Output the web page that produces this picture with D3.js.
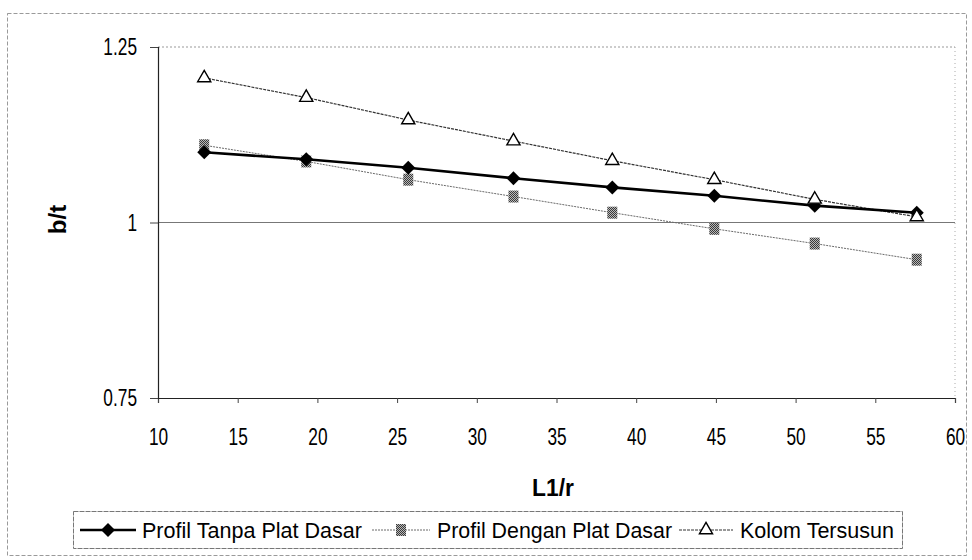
<!DOCTYPE html>
<html>
<head>
<meta charset="utf-8">
<script src="https://cdn.jsdelivr.net/npm/d3@7"></script>
<style>
  html, body { margin: 0; padding: 0; background: #fff; }
  svg { display: block; font-family: "Liberation Sans", Arial, sans-serif; }
</style>
</head>
<body>
<svg id="chart" width="972" height="560"></svg>
<script>
// Slenderness ratio L1/r at each test point
const slenderness = [12.9, 19.3, 25.7, 32.3, 38.5, 44.9, 51.2, 57.6];

// b/t for each configuration
const profilTanpaPlatDasar  = [1.100, 1.090, 1.078, 1.063, 1.050, 1.038, 1.024, 1.014];
const profilDenganPlatDasar = [1.110, 1.087, 1.061, 1.037, 1.014, 0.991, 0.970, 0.947];
const kolomTersusun         = [1.206, 1.178, 1.146, 1.116, 1.088, 1.061, 1.033, 1.008];

const seriesNames = ["Profil Tanpa Plat Dasar", "Profil Dengan Plat Dasar", "Kolom Tersusun"];
const xTicks = [10, 15, 20, 25, 30, 35, 40, 45, 50, 55, 60];
const yTicks = [0.75, 1, 1.25];

const svg = d3.select("#chart");

// squeeze a text element horizontally to mimic a narrow face
function narrow(sel, k) {
  sel.each(function () {
    const w = this.getComputedTextLength();
    d3.select(this).attr("textLength", w * k).attr("lengthAdjust", "spacingAndGlyphs");
  });
}

// outer chart frame
svg.append("rect")
  .attr("x", 7.5).attr("y", 13.5).attr("width", 959).attr("height", 542)
  .attr("fill", "none").attr("stroke", "#9a9a9a").attr("stroke-width", 1)
  .attr("stroke-dasharray", "4,2");

const x = d3.scaleLinear().domain([10, 60]).range([158, 955]);
const y = d3.scaleLinear().domain([0.75, 1.25]).range([398, 47]);

// checkered fill for the square markers
const defs = svg.append("defs");
const pat = defs.append("pattern").attr("id", "checker")
  .attr("width", 2).attr("height", 2).attr("patternUnits", "userSpaceOnUse");
pat.append("rect").attr("width", 2).attr("height", 2).attr("fill", "#b8b8b8");
pat.append("rect").attr("width", 1).attr("height", 1).attr("fill", "#3a3a3a");
pat.append("rect").attr("x", 1).attr("y", 1).attr("width", 1).attr("height", 1).attr("fill", "#3a3a3a");

// plot area frame and gridlines
svg.append("line")
  .attr("x1", x(60)).attr("x2", x(60)).attr("y1", y(1.25)).attr("y2", y(0.75))
  .attr("stroke", "#aaa").attr("stroke-dasharray", "1,3");
svg.append("g").selectAll("line").data(yTicks.filter(d => d > 0.75)).join("line")
  .attr("x1", x(10)).attr("x2", x(60))
  .attr("y1", d => y(d)).attr("y2", d => y(d))
  .attr("stroke", d => d === 1 ? "#777" : "#999")
  .attr("stroke-width", 1)
  .attr("stroke-dasharray", d => d === 1 ? null : "2,2");

// axes
const xAxis = d3.axisBottom(x).tickValues(xTicks).tickSize(5).tickPadding(25).tickFormat(d3.format("d"));
const yAxis = d3.axisLeft(y).tickValues(yTicks).tickSize(8).tickPadding(13).tickFormat(d => d3.format("")(d));

const gx = svg.append("g").attr("transform", `translate(0,${y(0.75)})`).call(xAxis);
const gy = svg.append("g").attr("transform", `translate(${x(10)},0)`).call(yAxis);
[gx, gy].forEach(g => {
  g.attr("font-size", 24).attr("font-family", "\"Liberation Sans\", Arial, sans-serif");
  g.select(".domain").attr("stroke", "#222").attr("stroke-width", 1.2);
  g.selectAll(".tick line").attr("stroke", "#444");
  g.selectAll(".tick text").attr("fill", "#000").call(narrow, 0.72);
});

// axis titles
svg.append("text").attr("x", 553).attr("y", 496).attr("text-anchor", "middle")
  .attr("font-size", 24).attr("font-weight", "bold").text("L1/r").call(narrow, 0.95);
svg.append("text").attr("transform", `translate(66,${y(1) - 3}) rotate(-90)`)
  .attr("text-anchor", "middle").attr("font-size", 24).attr("font-weight", "bold").text("b/t");

const line = d3.line().x((d, i) => x(slenderness[i])).y(d => y(d));

// series lines
svg.append("path").datum(profilDenganPlatDasar).attr("d", line)
  .attr("fill", "none").attr("stroke", "#6a6a6a").attr("stroke-width", 1).attr("stroke-dasharray", "2,1");
svg.append("path").datum(kolomTersusun).attr("d", line)
  .attr("fill", "none").attr("stroke", "#333").attr("stroke-width", 1.2).attr("stroke-dasharray", "3,1");
svg.append("path").datum(profilTanpaPlatDasar).attr("d", line)
  .attr("fill", "none").attr("stroke", "#000").attr("stroke-width", 2.6);

// marker shapes
const triangle = d3.symbol().type(d3.symbolTriangle).size(75);

function drawSquare(g, cx, cy) {
  g.append("rect").attr("x", cx - 5).attr("y", cy - 6).attr("width", 10).attr("height", 12)
    .attr("fill", "url(#checker)");
}
function drawDiamond(g, cx, cy) {
  g.append("path").attr("d", "M0,-7L7,0L0,7L-7,0Z")
    .attr("transform", `translate(${cx},${cy})`).attr("fill", "#000");
}
function drawTriangle(g, cx, cy) {
  g.append("path").attr("d", triangle()).attr("transform", `translate(${cx},${cy})`)
    .attr("fill", "#fff").attr("stroke", "#000").attr("stroke-width", 1.4);
}

const gm = svg.append("g");
profilDenganPlatDasar.forEach((v, i) => drawSquare(gm, x(slenderness[i]), y(v)));
profilTanpaPlatDasar.forEach((v, i) => drawDiamond(gm, x(slenderness[i]), y(v)));
kolomTersusun.forEach((v, i) => drawTriangle(gm, x(slenderness[i]), y(v)));

// legend
const lg = svg.append("g");
lg.append("rect").attr("x", 73.5).attr("y", 511.5).attr("width", 829).attr("height", 37)
  .attr("fill", "#fff").attr("stroke", "#777").attr("stroke-dasharray", "5,1");
const ly = 530;
const items = [
  { x0: 80,  x1: 136, tx: 142, tw: 220, draw: (g, c) => drawDiamond(g, c, ly), stroke: "#000", w: 2.6, dash: null },
  { x0: 372, x1: 430, tx: 437, tw: 235, draw: (g, c) => drawSquare(g, c, ly), stroke: "#6a6a6a", w: 1, dash: "2,1" },
  { x0: 679, x1: 733, tx: 740, tw: 154, draw: (g, c) => drawTriangle(g, c, ly), stroke: "#333", w: 1.2, dash: "3,1" }
];
items.forEach((it, i) => {
  lg.append("line").attr("x1", it.x0).attr("x2", it.x1).attr("y1", ly).attr("y2", ly)
    .attr("stroke", it.stroke).attr("stroke-width", it.w).attr("stroke-dasharray", it.dash);
  it.draw(lg, (it.x0 + it.x1) / 2);
  lg.append("text").attr("x", it.tx).attr("y", ly + 8).attr("font-size", 22)
    .attr("textLength", it.tw).attr("lengthAdjust", "spacingAndGlyphs")
    .text(seriesNames[i]);
});
</script>
</body>
</html>
